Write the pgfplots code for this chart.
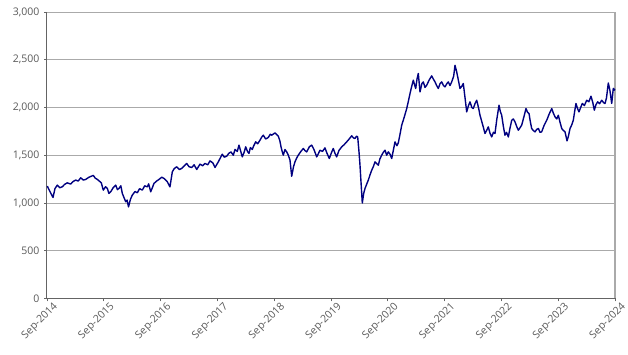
\documentclass[border=0pt]{standalone}
\usepackage{fontspec}
\setmainfont{Open Sans}
\usepackage{pgfplots}
\pgfplotsset{compat=1.18}
\usepackage{pgfplotstable}
\definecolor{navyline}{RGB}{0,0,128}
\definecolor{ticktext}{RGB}{89,89,89}
\definecolor{gridc}{RGB}{170,170,170}
\definecolor{axisdark}{RGB}{100,100,100}
\pgfplotstableread{
x y
0.005 1177
0.060 1110
0.106 1058
0.140 1150
0.181 1187
0.225 1160
0.269 1170
0.310 1195
0.357 1211
0.417 1198
0.460 1225
0.505 1240
0.550 1230
0.593 1264
0.640 1240
0.681 1247
0.740 1270
0.815 1289
0.850 1260
0.886 1247
0.920 1230
0.956 1211
0.991 1135
1.030 1170
1.062 1153
1.090 1100
1.121 1117
1.165 1160
1.210 1187
1.240 1140
1.268 1153
1.300 1180
1.326 1100
1.386 1013
1.410 1030
1.435 960
1.470 1040
1.502 1083
1.550 1120
1.590 1107
1.630 1150
1.678 1135
1.720 1180
1.766 1169
1.790 1200
1.826 1117
1.884 1205
1.930 1230
1.972 1247
2.020 1270
2.060 1257
2.090 1240
2.118 1222
2.165 1169
2.206 1326
2.240 1360
2.283 1379
2.330 1350
2.371 1362
2.420 1390
2.460 1414
2.500 1380
2.548 1372
2.590 1400
2.636 1351
2.694 1407
2.740 1390
2.782 1414
2.830 1400
2.870 1441
2.920 1420
2.958 1372
3.016 1431
3.050 1470
3.086 1511
3.120 1480
3.164 1490
3.200 1520
3.239 1535
3.280 1500
3.310 1561
3.350 1540
3.380 1606
3.438 1483
3.470 1530
3.498 1588
3.530 1540
3.556 1519
3.580 1580
3.614 1561
3.640 1600
3.674 1640
3.710 1620
3.750 1658
3.780 1690
3.808 1710
3.850 1670
3.896 1686
3.930 1720
3.956 1710
4.014 1734
4.040 1720
4.072 1700
4.100 1650
4.120 1588
4.140 1540
4.160 1501
4.190 1560
4.220 1535
4.248 1501
4.278 1449
4.308 1280
4.340 1380
4.366 1431
4.395 1470
4.424 1501
4.470 1540
4.512 1571
4.540 1550
4.572 1535
4.620 1590
4.660 1606
4.700 1560
4.748 1483
4.780 1520
4.806 1553
4.850 1540
4.894 1577
4.930 1520
4.970 1466
5.010 1530
5.040 1571
5.070 1520
5.100 1483
5.140 1550
5.188 1588
5.230 1610
5.276 1640
5.320 1670
5.364 1703
5.400 1680
5.423 1676
5.450 1700
5.470 1692
5.493 1535
5.510 1400
5.528 1222
5.551 1000
5.575 1100
5.599 1153
5.630 1200
5.657 1240
5.690 1300
5.717 1344
5.745 1380
5.775 1431
5.833 1396
5.860 1460
5.893 1501
5.920 1530
5.951 1553
5.980 1500
6.009 1535
6.040 1510
6.069 1466
6.100 1560
6.127 1640
6.160 1600
6.185 1630
6.215 1720
6.245 1815
6.290 1900
6.333 1989
6.360 2060
6.391 2146
6.420 2220
6.449 2286
6.470 2240
6.491 2199
6.515 2300
6.537 2356
6.567 2163
6.600 2250
6.625 2268
6.655 2210
6.685 2233
6.730 2290
6.773 2331
6.800 2300
6.831 2268
6.860 2230
6.889 2199
6.920 2250
6.949 2268
6.980 2230
7.007 2216
7.040 2250
7.065 2268
7.095 2230
7.125 2268
7.160 2330
7.183 2442
7.210 2380
7.231 2320
7.271 2199
7.300 2220
7.329 2251
7.360 2100
7.389 1954
7.420 2020
7.447 2059
7.480 2000
7.505 1989
7.535 2040
7.565 2076
7.600 1990
7.623 1919
7.670 1820
7.711 1728
7.740 1760
7.769 1797
7.800 1730
7.829 1692
7.860 1740
7.887 1728
7.920 1880
7.958 2024
7.980 1960
8.005 1919
8.035 1800
8.063 1710
8.090 1740
8.122 1692
8.150 1780
8.182 1867
8.210 1880
8.239 1850
8.270 1800
8.298 1762
8.330 1790
8.357 1815
8.395 1900
8.433 1989
8.460 1950
8.486 1937
8.510 1850
8.533 1780
8.560 1760
8.592 1745
8.620 1770
8.651 1780
8.680 1740
8.709 1745
8.750 1810
8.798 1867
8.840 1930
8.886 1989
8.915 1940
8.944 1902
8.975 1880
9.002 1919
9.030 1850
9.062 1780
9.090 1760
9.120 1745
9.155 1651
9.180 1700
9.208 1780
9.240 1820
9.266 1867
9.290 1960
9.313 2042
9.340 1990
9.366 1954
9.395 2000
9.424 2042
9.460 2020
9.502 2076
9.540 2060
9.577 2118
9.610 2050
9.636 1972
9.665 2030
9.695 2059
9.730 2040
9.766 2076
9.800 2050
9.824 2042
9.850 2100
9.882 2257
9.910 2180
9.942 2042
9.970 2200
10.000 2180
}\pricedata
\begin{document}
\begin{tikzpicture}
\path[use as bounding box] (0,0) rectangle (628pt,355pt);
\begin{axis}[
  at={(47pt,56.5pt)}, anchor=south west,
  width=568pt, height=286.5pt, scale only axis,
  xmin=0, xmax=10, ymin=0, ymax=3000,
  xtick={0,1,...,10},
  xticklabels={Sep-2014,Sep-2015,Sep-2016,Sep-2017,Sep-2018,Sep-2019,Sep-2020,Sep-2021,Sep-2022,Sep-2023,Sep-2024},
  ytick={0,500,...,3000},
  /pgf/number format/.cd, 1000 sep={,}, assume math mode=true, /pgfplots/.cd,
  xtick pos=bottom, ytick pos=left,
  tick align=outside, major tick length=3pt,
  tick style={axisdark, line width=0.8pt},
  ymajorgrids, grid style={gridc, line width=0.9pt},
  axis line style={draw=none},
  ticklabel style={font=\fontsize{10.5}{12}\selectfont, text=ticktext},
  xticklabel style={rotate=45, anchor=east, yshift=-9pt, xshift=5pt, inner sep=1pt},
  yticklabel style={xshift=-1pt},
  clip=false,
]
\draw[gridc, line width=1.2pt] (rel axis cs:1,0) -- (rel axis cs:1,1);
\draw[axisdark, line width=1pt] (rel axis cs:0,1) -- (rel axis cs:0,0) -- (rel axis cs:1,0);
\addplot[navyline, line width=1.4pt, line join=round] table[x=x,y=y] {\pricedata};
\end{axis}
\end{tikzpicture}
\end{document}
